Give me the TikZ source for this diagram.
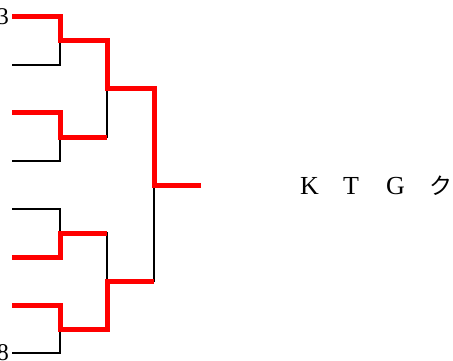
\documentclass[tikz,border=0pt]{standalone}
\usepackage{fontspec}
\setmainfont{Liberation Serif}
\newfontfamily\jpfont{Noto Sans CJK JP}
\tikzset{
    loser/.style={black, line width=2.5pt},
    winner/.style={red, line width=5pt},
    entrant/.style={anchor=east, inner sep=0pt, font=\fontsize{24}{28}\selectfont},
}
\newcommand{\pitch}[1]{\makebox[43pt][l]{#1}}

\begin{document}
\begin{tikzpicture}[x=1pt,y=-1pt,line join=miter]
        \useasboundingbox (0,0) rectangle (453,361);
        % first round ends and meeting points
        \foreach \i/\y in {1/17,2/65,3/113,4/161,5/209,6/257,7/305,8/353}
        \coordinate (l\i) at (12,\y);
        \foreach \i/\y in {1/41,2/137,3/233,4/329}
        \coordinate (a\i) at (60,\y);
        \coordinate (b1) at (107,89);
        \coordinate (b2) at (107,281);
        \coordinate (c) at (154,185);
        \coordinate (win) at (201,185);
        \node[entrant] (e1) at ([xshift=-3pt]l1) {3};
        \node[entrant] (e8) at ([xshift=-3pt]l8) {8};
        % beaten side
        \draw[loser] (l2) -| (a1);
        \draw[loser] (l4) -| (a2);
        \draw[loser] (l5) -| (a3);
        \draw[loser] (l8) -| (a4);
        \draw[loser] (a2) -| (b1);
        \draw[loser] (a3) -| (b2);
        \draw[loser] (b2) -| (c);
        % winners
        \draw[winner] (l1) -| (a1) -| (b1) -| (c) -- (win);
        \draw[winner] (l3) -| (a2) -- (a2 -| b1);
        \draw[winner] (l6) -| (a3) -- (a3 -| b2);
        \draw[winner] (l7) -| (a4) -| (b2) -- (b2 -| c);
        \node[anchor=base west, inner sep=0pt, font=\fontsize{26}{30}\selectfont] (champ) at (300,194)
        {\pitch{K}\pitch{T}\pitch{G}{\jpfont\fontsize{23}{28}\selectfont ク}};
    \end{tikzpicture}
\end{document}
